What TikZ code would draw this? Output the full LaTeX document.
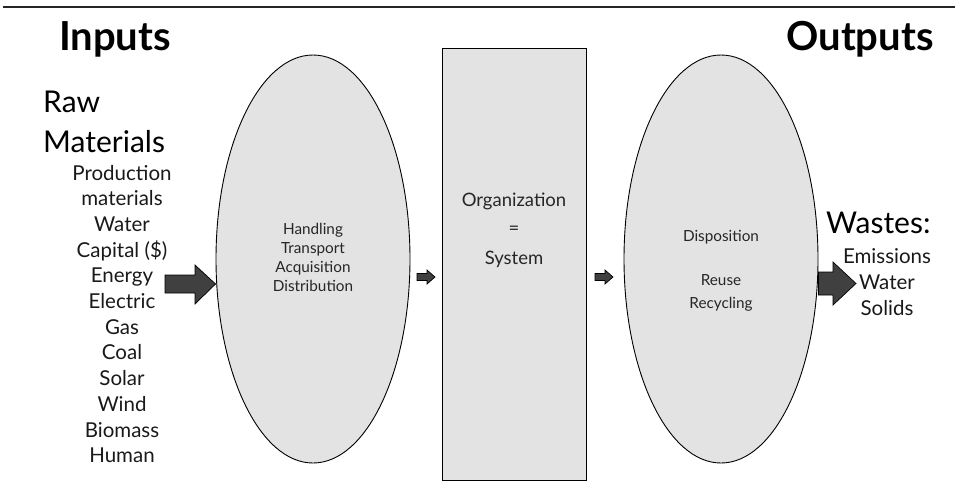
\documentclass[tikz,border=0pt]{standalone}
\usepackage{fontspec}
\setmainfont{Lato}
\usetikzlibrary{shapes.geometric}
\begin{document}
\begin{tikzpicture}[x=1pt,y=-1pt,
  shapebox/.style={draw=black, fill=black!11, line width=0.9pt},
  blockarrow/.style={draw=black, fill=black!75, line width=0.7pt},
  title/.style={font=\fontsize{40}{44}\selectfont\bfseries, anchor=base},
  big/.style={font=\fontsize{30}{34}\selectfont, anchor=base west, inner sep=0},
  item/.style={font=\fontsize{20.5}{24}\selectfont, anchor=base, inner sep=0, text=black!90},
  small/.style={font=\fontsize{15.3}{18}\selectfont, anchor=base, inner sep=0, text=black!85},
  orgtext/.style={font=\fontsize{18.5}{22}\selectfont, anchor=base, inner sep=0, text=black!85}]
\useasboundingbox (0,0) rectangle (960,490);
\draw[line width=1.6pt, black!85] (3,7) -- (955,7);
% titles
\node[title] (inputs) at (115,50) {Inputs};
\node[title] (outputs) at (860,50) {Outputs};
% raw materials
\node[big] (raw) at (43,112) {Raw};
\node[big] (mat) at (43,152) {Materials};
\foreach \t [count=\i from 0] in {Production,materials,Water,Capital (\$),Energy,Electric,Gas,Coal,Solar,Wind,Biomass,Human}
  \node[item] (in\i) at (122,{180+25.7*\i}) {\t};
% shapes
\node[shapebox, ellipse, inner sep=0, minimum width=194, minimum height=408] (acq) at (313,259) {};
\node[shapebox, rectangle, inner sep=0, minimum width=144, minimum height=432] (org) at (514,264.5) {};
\node[shapebox, ellipse, inner sep=0, minimum width=194, minimum height=408] (disp) at (721,259) {};
% ellipse 1 text
\node[small] (h1) at (313,234) {Handling};
\node[small] (h2) at (313,253) {Transport};
\node[small] (h3) at (313,272) {Acquisition};
\node[small] (h4) at (313,291) {Distribution};
% organization text
\node[orgtext] (o1) at (514,206) {Organization};
\node[orgtext] (o2) at (514,234) {=};
\node[orgtext] (o3) at (514,264) {System};
% ellipse 2 text
\node[small] (d1) at (721,241) {Disposition};
\node[small] (d2) at (721,285) {Reuse};
\node[small] (d3) at (721,308) {Recycling};
% wastes
\node[big] (wastes) at (826,233) {Wastes:};
\node[item] (w1) at (887,263) {Emissions};
\node[item] (w2) at (887,289) {Water};
\node[item] (w3) at (887,315) {Solids};
% arrows
\coordinate (a1tip) at (acq.west |- 0,284);
\draw[blockarrow] (165,275) -- (195,275) -- (195,265) -- (a1tip) -- (195,304) -- (195,293) -- (165,293) -- cycle;
\draw[blockarrow] (417,273.5) -- (427,273.5) -- (427,270) -- (435,277) -- (427,284) -- (427,280.5) -- (417,280.5) -- cycle;
\draw[blockarrow] (595,273.5) -- (605,273.5) -- (605,270) -- (613,277) -- (605,284) -- (605,280.5) -- (595,280.5) -- cycle;
\coordinate (a4base) at (disp.east |- 0,272);
\draw[blockarrow] (a4base) -- (833,272) -- (833,262) -- (856,283.5) -- (833,305) -- (833,295) -- (a4base |- 0,295) -- cycle;
\end{tikzpicture}
\end{document}
